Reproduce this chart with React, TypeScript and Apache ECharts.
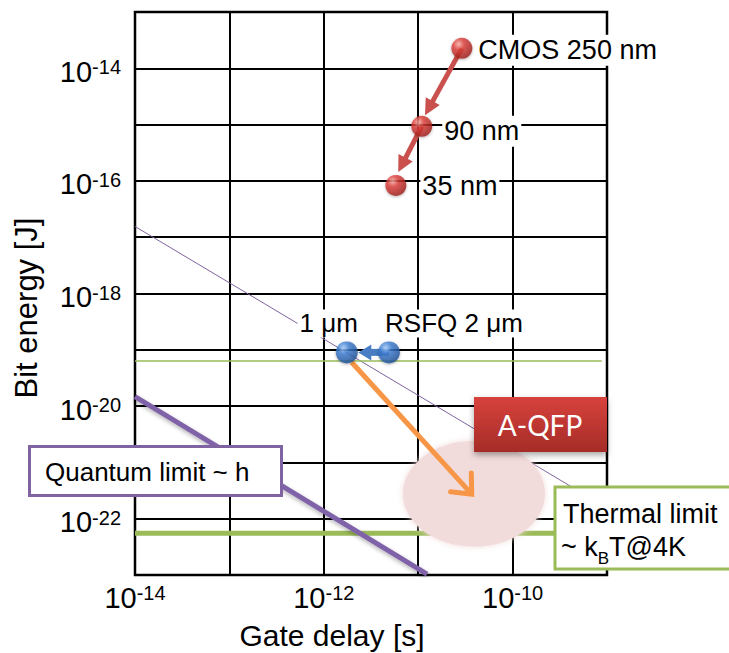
import React, { useEffect, useRef } from "react";
import * as echarts from "echarts";

const FONT = '"Liberation Sans", Arial, Helvetica, sans-serif';

// Axis ranges (log10 scale): gate delay [s], bit energy [J]
const delayRange = [1e-14, 1e-9];
const energyRange = [1e-23, 1e-13];

// CMOS generations
const cmosDelay = [2.9e-11, 1.09e-11, 5.8e-12];
const cmosEnergy = [2.26e-14, 9.3e-16, 8.3e-17];
const cmosLabels = ["CMOS 250 nm", "90 nm", "35 nm"];

// RSFQ processes
const rsfqDelay = [1.75e-12, 4.9e-12];
const rsfqEnergy = [9e-20, 9e-20];
const rsfqLabels = ["1 μm", "RSFQ 2 μm"];

// Reference lines [delay, energy]
const thinPurpleLine = [[1e-14, 1.55e-17], [1e-9, 1.55e-22]];
const thinGreenLine = [[1e-14, 6.3e-20], [8.8e-10, 6.3e-20]];
const quantumLimitLine = [[1e-14, 1.48e-20], [1.24e-11, 1.04e-23]];
const thermalLimitLine = [[1e-14, 5.5e-23], [1e-9, 5.5e-23]];

// Arrows [fromDelay, fromEnergy, toDelay, toEnergy]
const cmosArrows = [
  [2.9e-11, 2.26e-14, 1.18e-11, 1.47e-15],
  [1.09e-11, 9.3e-16, 6.15e-12, 1.44e-16],
];
const rsfqArrows = [[4.9e-12, 9e-20, 2.32e-12, 9e-20]];
const aqfpArrows = [[1.97e-12, 6.0e-20, 3.69e-11, 2.73e-22]];

// A-QFP region [delayLeft, energyTop, delayRight, energyBottom]
const aqfpRegion = [[6.9e-12, 2.4e-21, 2.2e-10, 3.2e-23]];

// label layout (style only)
const cmosLabelLayout = [
  { distance: 4, offset: [0, 2] },
  { distance: 10, offset: [0, 5] },
  { distance: 14, offset: [0, 1] },
];
const rsfqLabelLayout = [
  { distance: 4, offset: [-18, 0] },
  { distance: 4, offset: [65, 0] },
];

const powLabel = (v: number) => {
  const e = Math.round(Math.log10(v));
  if (e % 2 !== 0) return "";
  return `{b|10}{s|${e}}`;
};

const labelRich = {
  b: { fontSize: 29, fontFamily: FONT, color: "#000" },
  s: { fontSize: 20, fontFamily: FONT, color: "#000", verticalAlign: "top" },
};

type ArrowOpts = { color: string; width: number; headLen: number; headHalf: number; open?: boolean };

const arrowRender = (o: ArrowOpts) => (params: any, api: any) => {
  const p1 = api.coord([api.value(0), api.value(1)]);
  const p2 = api.coord([api.value(2), api.value(3)]);
  const dx = p2[0] - p1[0];
  const dy = p2[1] - p1[1];
  const L = Math.hypot(dx, dy) || 1;
  const ux = dx / L, uy = dy / L, nx = -uy, ny = ux;
  const bx = p2[0] - ux * o.headLen;
  const by = p2[1] - uy * o.headLen;
  const left = [bx + nx * o.headHalf, by + ny * o.headHalf];
  const right = [bx - nx * o.headHalf, by - ny * o.headHalf];
  if (o.open) {
    return {
      type: "group",
      children: [
        { type: "line", shape: { x1: p1[0], y1: p1[1], x2: p2[0], y2: p2[1] }, style: { stroke: o.color, lineWidth: o.width, lineCap: "butt" } },
        { type: "polyline", shape: { points: [left, p2, right] }, style: { stroke: o.color, lineWidth: o.width, fill: "none", lineJoin: "miter", lineCap: "round" } },
      ],
    };
  }
  const ex = p2[0] - ux * o.headLen * 0.7;
  const ey = p2[1] - uy * o.headLen * 0.7;
  return {
    type: "group",
    children: [
      { type: "line", shape: { x1: p1[0], y1: p1[1], x2: ex, y2: ey }, style: { stroke: o.color, lineWidth: o.width } },
      { type: "polygon", shape: { points: [p2, left, right] }, style: { fill: o.color } },
    ],
  };
};

export default function App() {
  const ref = useRef<HTMLDivElement>(null);
  useEffect(() => {
    if (!ref.current) return;
    const chart = echarts.init(ref.current, null, { renderer: "svg" });
    const redBall = new echarts.graphic.RadialGradient(0.35, 0.3, 0.75, [
      { offset: 0, color: "#ffb0a8" },
      { offset: 0.35, color: "#dd3f3a" },
      { offset: 1, color: "#9a1b18" },
    ]);
    const blueBall = new echarts.graphic.RadialGradient(0.35, 0.3, 0.75, [
      { offset: 0, color: "#a8cffc" },
      { offset: 0.35, color: "#3f7fd3" },
      { offset: 1, color: "#1d4d92" },
    ]);
    const axisCommon = {
      type: "log",
      logBase: 10,
      interval: 1,
      axisLine: { show: false },
      axisTick: { show: false },
      splitLine: { show: true, lineStyle: { color: "#000", width: 2 } },
    };
    const pointLabel = {
      show: true, formatter: "{b}", fontFamily: FONT, color: "#000", opacity: 1,
      textBorderWidth: 0, textShadowBlur: 0, backgroundColor: "#fff",
    };
    const option: any = {
      animation: false,
      backgroundColor: "#fff",
      grid: {
        left: 135, top: 12, width: 472, height: 563,
        show: true, borderColor: "#000", borderWidth: 2.5,
        containLabel: false, outerBoundsMode: "none",
      },
      xAxis: {
        ...axisCommon,
        min: delayRange[0],
        max: delayRange[1],
        axisLabel: { formatter: powLabel, margin: 8, rich: labelRich },
        name: "Gate delay [s]",
        nameLocation: "middle",
        nameGap: 45,
        nameMoveOverlap: false,
        nameTextStyle: { fontSize: 30, fontFamily: FONT, color: "#000", padding: [0, 78, 0, 0] },
      },
      yAxis: {
        ...axisCommon,
        min: energyRange[0],
        max: energyRange[1],
        axisLabel: { formatter: powLabel, margin: 14, rich: labelRich, padding: [7, 0, 0, 0] },
      },
      series: [
        { type: "line", z: 2, silent: true, symbol: "none", data: thinPurpleLine, lineStyle: { color: "#8064a2", width: 1 } },
        { type: "line", z: 2, silent: true, symbol: "none", data: thinGreenLine, lineStyle: { color: "#9bbb59", width: 1.5 } },
        { type: "line", z: 2, silent: true, symbol: "none", data: thermalLimitLine, lineStyle: { color: "#9bbb59", width: 5 } },
        {
          type: "line", z: 2, silent: true, symbol: "none", data: quantumLimitLine,
          lineStyle: { color: "#7f62a8", width: 5, shadowBlur: 4, shadowColor: "rgba(0,0,0,0.3)", shadowOffsetY: 2 },
        },
        {
          type: "custom", z: 3, silent: true, data: aqfpRegion, encode: { x: [0, 2], y: [1, 3] },
          renderItem: (params: any, api: any) => {
            const a = api.coord([api.value(0), api.value(1)]);
            const b = api.coord([api.value(2), api.value(3)]);
            return {
              type: "ellipse",
              shape: { cx: (a[0] + b[0]) / 2, cy: (a[1] + b[1]) / 2, rx: Math.abs(b[0] - a[0]) / 2, ry: Math.abs(b[1] - a[1]) / 2 },
              style: { fill: "#f2dcdb", shadowBlur: 6, shadowColor: "#f2dcdb" },
            };
          },
        },
        {
          type: "custom", z: 4, silent: true, data: aqfpArrows, encode: { x: [0, 2], y: [1, 3] },
          renderItem: arrowRender({ color: "#f79646", width: 5, headLen: 16, headHalf: 14, open: true }),
        },
        {
          type: "custom", z: 4, silent: true, data: cmosArrows, encode: { x: [0, 2], y: [1, 3] },
          renderItem: arrowRender({ color: "#c9504c", width: 5, headLen: 16, headHalf: 8 }),
        },
        {
          type: "custom", z: 4, silent: true, data: rsfqArrows, encode: { x: [0, 2], y: [1, 3] },
          renderItem: arrowRender({ color: "#4a7ec4", width: 7, headLen: 13, headHalf: 8 }),
        },
        {
          type: "scatter", z: 6, symbolSize: 21,
          data: cmosDelay.map((d, i) => ({ value: [d, cmosEnergy[i]], name: cmosLabels[i], label: cmosLabelLayout[i] })),
          itemStyle: { color: redBall, shadowBlur: 3, shadowColor: "rgba(0,0,0,0.35)", shadowOffsetY: 1 },
          label: { ...pointLabel, position: "right", fontSize: 27, padding: [2, 2] },
        },
        {
          type: "scatter", z: 6, symbolSize: 22,
          data: rsfqDelay.map((d, i) => ({ value: [d, rsfqEnergy[i]], name: rsfqLabels[i], label: rsfqLabelLayout[i] })),
          itemStyle: { color: blueBall, shadowBlur: 3, shadowColor: "rgba(0,0,0,0.35)", shadowOffsetY: 1 },
          label: { ...pointLabel, position: "top", fontSize: 26, padding: [1, 2] },
        },
      ],
      graphic: [
        {
          type: "text", z: 11, x: 26, y: 308, rotation: Math.PI / 2,
          style: { text: "Bit energy [J]", fill: "#000", fontSize: 31, fontFamily: FONT, align: "center", verticalAlign: "middle" },
        },
        {
          type: "rect", z: 10, shape: { x: 474, y: 397, width: 133, height: 55 },
          style: {
            fill: new echarts.graphic.LinearGradient(0, 0, 0, 1, [
              { offset: 0, color: "#d8423d" },
              { offset: 1, color: "#a52c27" },
            ]),
            shadowBlur: 6, shadowOffsetY: 3, shadowColor: "rgba(0,0,0,0.35)",
          },
        },
        {
          type: "text", z: 11, x: 540, y: 425,
          style: { text: "A-QFP", fill: "#fff", fontSize: 28, fontFamily: "Lato, sans-serif", align: "center", verticalAlign: "middle" },
        },
        {
          type: "rect", z: 10, shape: { x: 29.5, y: 446.5, width: 252, height: 49 },
          style: { fill: "#fff", stroke: "#8064a2", lineWidth: 3 },
        },
        {
          type: "text", z: 11, x: 45, y: 472,
          style: { text: "Quantum limit ~ h", fill: "#000", fontSize: 26, fontFamily: FONT, verticalAlign: "middle" },
        },
        {
          type: "rect", z: 10, shape: { x: 555, y: 487, width: 190, height: 82 },
          style: { fill: "#fff", stroke: "#9bbb59", lineWidth: 3 },
        },
        {
          type: "text", z: 11, x: 563, y: 514,
          style: { text: "Thermal limit", fill: "#000", fontSize: 27, fontFamily: FONT, verticalAlign: "middle" },
        },
        {
          type: "text", z: 11, x: 561, y: 527,
          style: {
            text: "{a|~ k}{sub|B}{a|T@4K}",
            verticalAlign: "top",
            rich: {
              a: { fontSize: 27, lineHeight: 40, fontFamily: FONT, fill: "#000", color: "#000" },
              sub: { fontSize: 17, lineHeight: 17, fontFamily: FONT, fill: "#000", color: "#000", verticalAlign: "bottom" },
            },
          },
        },
      ],
    };
    chart.setOption(option);
    return () => chart.dispose();
  }, []);
  return <div ref={ref} style={{ position: "absolute", left: 0, top: 0, width: 729, height: 653 }} />;
}
